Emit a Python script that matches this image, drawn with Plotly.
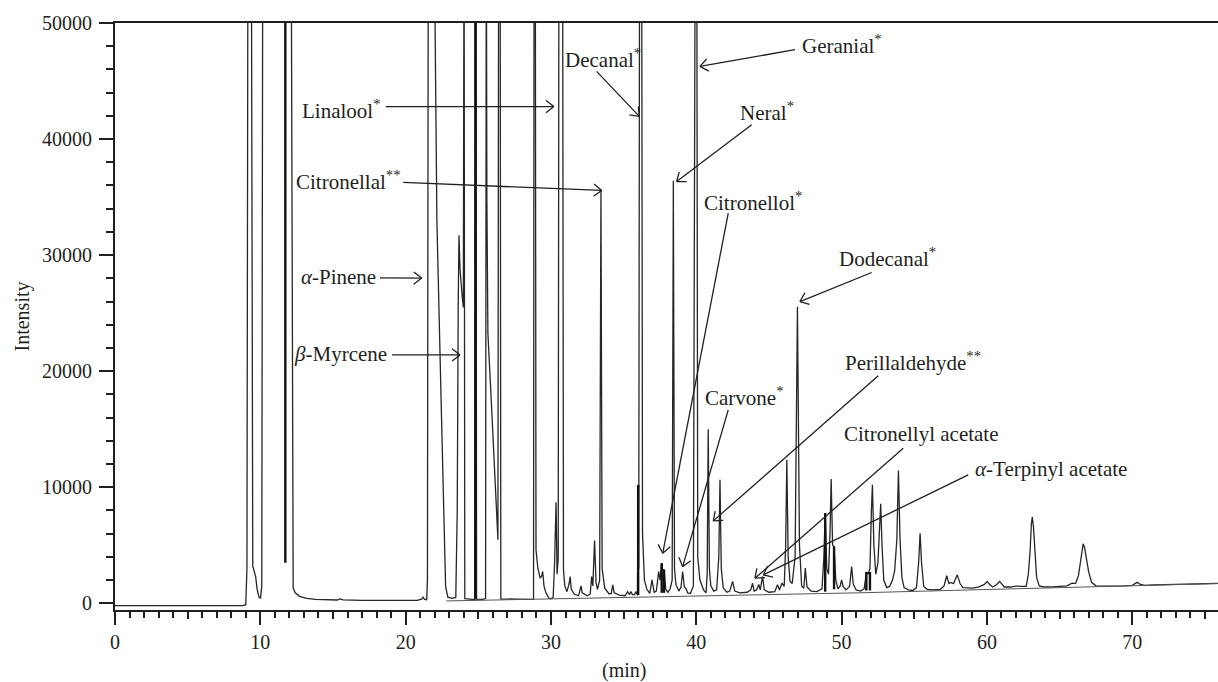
import math
import plotly.graph_objects as go

# ---------------- data ----------------
# chromatogram trace: retention time (min) and intensity, vertices of the plotted line
rt_min = [
    0.0, 1.0, 2.0, 3.0, 4.5, 6.0, 7.5, 8.8, 9.0,
    9.08, 9.15, 9.38, 9.48, 9.58, 9.68, 9.78, 9.92, 10.02, 10.1, 10.17,
    12.12, 12.26, 12.4, 12.7, 13.2, 13.8, 14.5, 15.3, 15.5, 15.7, 17.0, 18.5, 20.0, 20.8, 21.1, 21.2, 21.3, 21.45,
    21.5, 21.56, 21.95, 22.15, 22.45, 22.75, 22.9, 23.2, 23.45,
    23.55, 23.62, 23.67, 23.74, 23.82, 23.9, 23.97, 24.02, 24.07, 24.5, 24.75, 24.78, 24.84, 24.88,
    25.3, 25.5, 25.55, 25.59, 25.66, 25.89, 26.19, 26.35, 26.4, 26.5, 26.55,
    27.5, 28.5, 28.8, 28.84, 28.92, 28.97, 29.1, 29.25, 29.35, 29.43, 29.52, 29.65, 29.85,
    30.0, 30.15, 30.25, 30.35, 30.42, 30.5, 30.55, 30.8, 30.86, 30.95, 31.1, 31.25, 31.32, 31.4,
    31.6, 31.9, 32.0, 32.07, 32.15, 32.5, 32.7, 32.8, 32.88, 33.0, 33.1, 33.2, 33.35, 33.44, 33.52,
    33.7, 34.0, 34.15, 34.25, 34.35, 34.7, 35.1, 35.27, 35.4, 35.5, 35.6, 35.75, 35.85, 35.95,
    36.0, 36.04, 36.1, 36.24, 36.3, 36.43, 36.6, 36.8, 36.95, 37.1, 37.25, 37.41, 37.5, 37.62,
    37.7, 37.78, 37.9, 38.05, 38.2, 38.34, 38.42, 38.5, 38.6, 38.8, 38.95, 39.06, 39.18, 39.3,
    39.4, 39.6, 39.8, 39.93, 40.03, 40.1, 40.25, 40.5, 40.67, 40.75, 40.82, 40.9, 41.0, 41.2,
    41.4, 41.55, 41.63, 41.72, 41.85, 42.1, 42.3, 42.5, 42.65, 43.0, 43.5, 43.75, 43.87, 43.98,
    44.15, 44.3, 44.4, 44.56, 44.68, 45.0, 45.4, 45.59, 45.72, 45.9, 46.05, 46.15, 46.23, 46.32,
    46.45, 46.6, 46.8, 46.96, 47.1, 47.25, 47.4, 47.5, 47.62, 47.9, 48.3, 48.65, 48.78, 48.87,
    48.98, 49.1, 49.2, 49.28, 49.38, 49.48, 49.6, 49.75, 49.9, 50.0, 50.1, 50.3, 50.55, 50.69,
    50.8, 51.0, 51.3, 51.55, 51.7, 51.85, 51.95, 52.05, 52.12, 52.22, 52.35, 52.5, 52.62, 52.69,
    52.78, 52.9, 53.1, 53.3, 53.5, 53.65, 53.8, 53.91, 54.02, 54.15, 54.3, 54.6, 54.9, 55.15,
    55.3, 55.4, 55.5, 55.65, 55.9, 56.3, 56.8, 57.05, 57.23, 57.38, 57.5, 57.7, 57.96, 58.15,
    58.35, 58.7, 59.0, 59.4, 59.8, 60.02, 60.2, 60.4, 60.65, 60.87, 61.05, 61.2, 61.6, 62.0,
    62.4, 62.7, 62.85, 62.97, 63.06, 63.12, 63.2, 63.3, 63.42, 63.6, 64.0, 64.5, 65.0, 65.5,
    65.86, 66.1, 66.3, 66.45, 66.55, 66.62, 66.72, 66.85, 67.0, 67.2, 67.5, 68.0, 68.7, 69.5,
    70.0, 70.33, 70.6, 70.9, 71.5, 72.3, 73.2, 74.0, 75.0, 75.9,
]
intensity = [
    -200, -210, -240, -230, -210, -200, -210, -200, -120,
    3000, 60000, 60000, 3200, 2700, 2300, 1200, 500, 450, 1500, 60000,
    60000, 1300, 900, 600, 420, 330, 300, 280, 380, 290, 250, 230, 220, 250, 350, 520, 330, 300,
    2000, 60000, 60000, 33000, 17000, 1450, 530, 430, 500,
    8000, 26000, 31700, 28800, 27000, 26300, 25500, 60000, 400, 320, 320, 60000, 60000, 350,
    330, 400, 60000, 34750, 23270, 17530, 8910, 5470, 60000, 60000, 380,
    330, 330, 350, 60000, 60000, 4600, 3000, 2200, 2300, 2740, 1500, 900, 450,
    380, 500, 3500, 8700, 2500, 3900, 60000, 60000, 2900, 1500, 1000, 1700, 2300, 1200,
    800, 650, 1300, 1500, 900, 650, 800, 2300, 1500, 5400, 1800, 1200, 2000, 35600, 3000,
    1300, 800, 850, 1590, 900, 700, 650, 1000, 750, 1000, 750, 750, 1000, 700,
    10200, 3000, 60000, 60000, 6000, 2000, 1200, 850, 2020, 950, 1050, 2740, 2000, 3460,
    2800, 2900, 1200, 950, 1250, 2000, 36400, 3000, 1600, 1050, 1400, 2740, 1400, 1250,
    900, 850, 1500, 60000, 60000, 4000, 2000, 1150, 900, 2500, 15000, 3000, 1500, 1050,
    1150, 4000, 10640, 3000, 1350, 950, 1050, 1880, 1050, 900, 950, 1150, 1740, 1050,
    1150, 1620, 1150, 2310, 1150, 950, 1000, 1590, 1150, 1740, 1450, 5000, 12360, 4000,
    1900, 1700, 4000, 25560, 5000, 1500, 1300, 3030, 1400, 1050, 1000, 1250, 4000, 7770,
    3000, 2500, 6000, 10700, 5000, 4890, 2000, 1250, 1500, 2020, 1450, 1150, 1450, 3170,
    1650, 1150, 1050, 1250, 2600, 2600, 3000, 8000, 10200, 5000, 2500, 3500, 7500, 8570,
    5000, 2000, 1350, 1450, 2000, 2800, 5500, 11440, 5500, 2200, 1350, 1150, 1100, 1350,
    3500, 6040, 3500, 1450, 1200, 1150, 1200, 1500, 2370, 1700, 1800, 1700, 2450, 1700,
    1350, 1300, 1310, 1400, 1600, 1880, 1600, 1400, 1600, 1880, 1600, 1400, 1400, 1480,
    1450, 1450, 2500, 4500, 6900, 7420, 6600, 4200, 2200, 1500, 1400, 1420, 1450, 1500,
    1740, 1700, 2400, 3800, 4800, 5120, 4800, 3800, 2700, 1800, 1500, 1480, 1460, 1500,
    1550, 1800, 1600, 1550, 1580, 1600, 1680, 1650, 1700, 1720,
]

# thick black integration marks (segments separated by None)
mark_rt = [11.72, 11.72, None, 24.81, 24.81, None, 36.0, 36.0, None, 37.62, 37.62, None,
           37.78, 37.78, None, 48.87, 48.87, None, 49.48, 49.48, None, 51.7, 51.7, 51.95, 51.95]
mark_int = [3500, 60000, None, 350, 60000, None, 700, 10200, None, 900, 3460, None,
            900, 2900, None, 1000, 7770, None, 1200, 4890, None, 1100, 2600, 2600, 1100]

# straight integration baseline
base_rt = [22.8, 51.2, 75.9]
base_int = [200, 900, 1700]

# tick labels
x_ticks = [0, 10, 20, 30, 40, 50, 60, 70]
y_ticks = [0, 10000, 20000, 30000, 40000, 50000]
x_mid_ticks = [5, 15, 25, 35, 45, 55, 65, 75]

# compound labels: text, text x, text y, anchor, arrow tail (x, y), arrow tip (x, y)
label_text = ["Linalool<sup>*</sup>", "Citronellal<sup>**</sup>", "<i>α</i>-Pinene",
              "<i>β</i>-Myrcene", "Decanal<sup>*</sup>", "Geranial<sup>*</sup>",
              "Neral<sup>*</sup>", "Citronellol<sup>*</sup>", "Carvone<sup>*</sup>",
              "Dodecanal<sup>*</sup>", "Perillaldehyde<sup>**</sup>", "Citronellyl acetate",
              "<i>α</i>-Terpinyl acetate"]
label_x = [18.45, 19.8, 18.1, 18.85, 30.83, 47.13, 42.87, 40.37, 40.46, 49.66, 50.09, 50.0, 59.04]
label_y = [42530, 36400, 28130, 21490, 46920, 48130, 42350, 34600, 17780, 29770, 20840, 14600, 11580]
label_anchor = ["right", "right", "right", "right", "left", "left", "left", "left", "left",
                "left", "left", "left", "left"]
tail_x = [18.64, 19.84, 18.23, 19.06, 33.14, 46.79, 43.81, 42.2, 42.2, 52.07, 52.52, 54.24, 58.71]
tail_y = [42800, 36260, 28040, 21400, 45830, 47700, 41230, 33620, 16660, 28500, 19600, 13360, 11060]
tip_x = [30.2, 33.49, 21.1, 23.74, 36.08, 40.25, 38.65, 37.69, 39.06, 47.13, 41.17, 44.04, 44.61]
tip_y = [42800, 35570, 28020, 21400, 41950, 46260, 36340, 4310, 3160, 26000, 7100, 2160, 2440]

# ---------------- layout constants ----------------
W, H = 1218, 682
ML, MR, MT, MB = 115, 0, 23, 72
XR = [0, 75.9]
YR = [-580, 50000]
INK = "#231f20"
FONT = "Liberation Serif"

px_per_x = (W - ML - MR) / (XR[1] - XR[0])
px_per_y = (H - MT - MB) / (YR[1] - YR[0])

fig = go.Figure()
fig.add_trace(go.Scatter(x=rt_min, y=intensity, mode="lines",
                         line=dict(color="#262626", width=1.3), showlegend=False,
                         hoverinfo="skip"))
fig.add_trace(go.Scatter(x=mark_rt, y=mark_int, mode="lines",
                         line=dict(color="#111111", width=2.4), showlegend=False,
                         connectgaps=False, hoverinfo="skip"))
fig.add_trace(go.Scatter(x=base_rt, y=base_int, mode="lines", xaxis="x2",
                         line=dict(color="#555555", width=1), showlegend=False,
                         hoverinfo="skip"))

shapes = []
annotations = []
for i in range(len(label_text)):
    annotations.append(dict(x=label_x[i], y=label_y[i], xref="x", yref="y", text=label_text[i],
                            showarrow=False, xanchor=label_anchor[i], yanchor="middle",
                            font=dict(family=FONT, size=21, color=INK)))
    shapes.append(dict(type="line", xref="x", yref="y", x0=tail_x[i], y0=tail_y[i],
                       x1=tip_x[i], y1=tip_y[i], line=dict(color=INK, width=1.3)))
    # open V arrow head
    dxp = (tail_x[i] - tip_x[i]) * px_per_x
    dyp = (tail_y[i] - tip_y[i]) * px_per_y
    n = math.hypot(dxp, dyp)
    ux, uy = dxp / n, dyp / n
    for ang in (math.radians(38), -math.radians(38)):
        rx = ux * math.cos(ang) - uy * math.sin(ang)
        ry = ux * math.sin(ang) + uy * math.cos(ang)
        shapes.append(dict(type="line", xref="x", yref="y", x0=tip_x[i], y0=tip_y[i],
                           x1=tip_x[i] + rx * 10 / px_per_x, y1=tip_y[i] + ry * 10 / px_per_y,
                           line=dict(color=INK, width=1.3)))

annotations.append(dict(x=(22 - ML) / (W - ML - MR), y=0.5, xref="paper", yref="paper",
                        text="Intensity", textangle=-90, showarrow=False,
                        xanchor="center", yanchor="middle",
                        font=dict(family=FONT, size=20, color=INK)))
annotations.append(dict(x=(624 - ML) / (W - ML - MR), y=(H - MB - 670) / (H - MT - MB),
                        xref="paper", yref="paper", text="(min)", showarrow=False,
                        xanchor="center", yanchor="middle",
                        font=dict(family=FONT, size=20, color=INK)))

fig.update_layout(
    width=W, height=H, margin=dict(l=ML, r=MR, t=MT, b=MB, pad=0),
    paper_bgcolor="white", plot_bgcolor="white",
    shapes=shapes, annotations=annotations,
    xaxis=dict(range=XR, showgrid=False, zeroline=False, showline=True, linewidth=2,
               linecolor=INK, mirror=True, ticks="outside", ticklen=13, tickwidth=2,
               tickcolor=INK, tickvals=x_ticks, ticktext=[str(v) for v in x_ticks],
               tickfont=dict(family=FONT, size=20, color=INK),
               minor=dict(ticks="outside", dtick=1, tick0=0, ticklen=6, tickwidth=1.5,
                          tickcolor=INK, showgrid=False)),
    xaxis2=dict(range=XR, overlaying="x", anchor="y", side="bottom", showgrid=False,
                zeroline=False, showline=False, ticks="outside", ticklen=8, tickwidth=1.5,
                tickcolor=INK, tickvals=x_mid_ticks, showticklabels=False),
    yaxis=dict(range=YR, showgrid=False, zeroline=False, showline=True, linewidth=2,
               linecolor=INK, ticks="outside", ticklen=14, tickwidth=2, tickcolor=INK,
               tickvals=y_ticks, ticktext=[str(v) for v in y_ticks],
               ticklabelstandoff=3,
               tickfont=dict(family=FONT, size=20, color=INK),
               minor=dict(ticks="outside", dtick=2000, tick0=0, ticklen=7, tickwidth=1.5,
                          tickcolor=INK, showgrid=False)),
)

fig.write_html("out.html")
